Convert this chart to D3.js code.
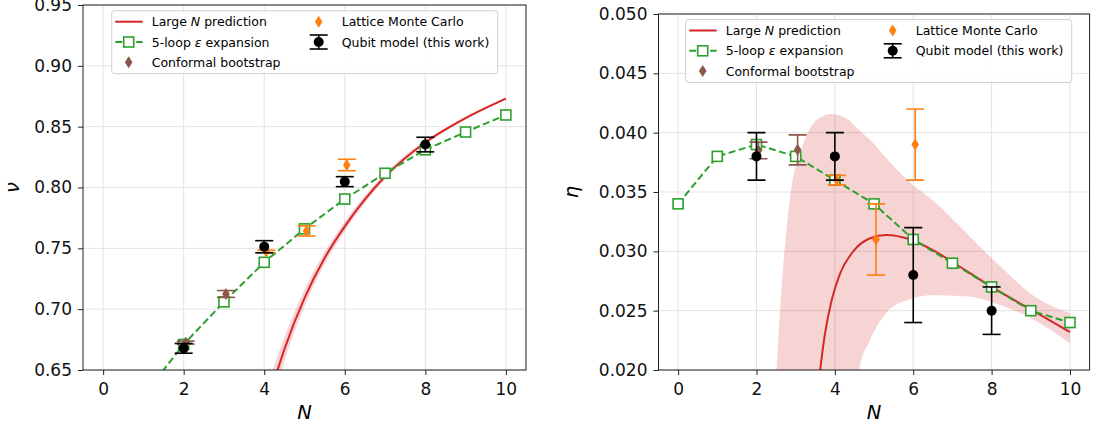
<!DOCTYPE html>
<html>
<head>
<meta charset="utf-8">
<script src="https://cdn.jsdelivr.net/npm/d3@7"></script>
<style>
  body { margin: 0; background: #fff; }
  svg { display: block; font-family: "DejaVu Sans", sans-serif; }
</style>
</head>
<body>
<svg id="fig" width="1096" height="429"></svg>
<script>
// --- DATA ---

// 5-loop epsilon expansion
var N_EPS = [0, 1, 2, 3, 4, 5, 6, 7, 8, 9, 10];
var NU_EPS = [0.588, 0.629, 0.671, 0.706, 0.7385, 0.766, 0.7905, 0.8117, 0.831, 0.8456, 0.8596];
var ETA_EPS = [0.034, 0.038, 0.039, 0.038, 0.036, 0.034, 0.031, 0.029, 0.027, 0.025, 0.024];

// Qubit model (this work)
var N_QUBIT = [2, 4, 6, 8];
var NU_QUBIT = [0.6678, 0.7513, 0.8048, 0.8353];
var NU_QUBIT_ERR = [0.004, 0.005, 0.0041, 0.006];
var ETA_QUBIT = [0.038, 0.038, 0.028, 0.025];
var ETA_QUBIT_ERR = [0.002, 0.002, 0.004, 0.002];

// Lattice Monte Carlo
var N_LATTICE = [4, 5, 6];
var NU_LATTICE = [0.7475, 0.7643, 0.8185];
var NU_LATTICE_ERR = [0.001, 0.0042, 0.0047];
var ETA_LATTICE = [0.036, 0.031, 0.039];
var ETA_LATTICE_ERR = [0.0004, 0.003, 0.003];

// Conformal bootstrap
var N_BOOT = [2, 3];
var NU_BOOT = [0.6725, 0.7125];
var NU_BOOT_ERR = [0.0012, 0.0028];
var ETA_BOOT = [0.0385, 0.03855];
var ETA_BOOT_ERR = [0.0007, 0.00126];

// Large N prediction, nu panel (curve + uncertainty band)
var NU_LARGE_N_N = [4.2, 4.5, 5, 5.5, 6, 7, 8, 9, 10];
var NU_LARGE_N = [0.636, 0.667, 0.709, 0.742, 0.768, 0.809, 0.837, 0.857, 0.873];
var NU_BAND_LO = [0.623, 0.657, 0.702, 0.737, 0.764, 0.8065, 0.8352, 0.8558, 0.8721];
var NU_BAND_HI = [0.649, 0.677, 0.716, 0.747, 0.772, 0.8115, 0.8388, 0.8582, 0.8739];

// Large N prediction, eta panel
var ETA_LARGE_N_N = [3.58, 3.75, 3.92, 4.13, 4.47, 4.9, 5.32, 5.92, 6.5, 7, 8, 9, 10];
var ETA_LARGE_N = [0.0188, 0.0231, 0.0259, 0.0281, 0.0300, 0.0311, 0.03138, 0.0310, 0.0301, 0.0291, 0.0270, 0.0251, 0.0232];
var ETA_BAND_N = [2.45, 2.6, 2.85, 3.2, 3.55, 3.9, 4.3, 4.62, 4.9, 5.3, 5.85, 6.5, 7.4, 8.2, 9.1, 10];
var ETA_BAND_HI = [0.016, 0.025, 0.0343, 0.0391, 0.0411, 0.04157, 0.0412, 0.0402, 0.0394, 0.0379, 0.036, 0.0343, 0.0314, 0.0288, 0.0262, 0.0248];
var ETA_BAND_LO = [0.0, 0.0, 0.0, 0.0, 0.0, 0.0, 0.010, 0.020, 0.02253, 0.02478, 0.0259, 0.0263, 0.0262, 0.0255, 0.0242, 0.02225];

// Ticks
var X_TICKS = [0, 2, 4, 6, 8, 10];
var NU_TICKS = [0.65, 0.70, 0.75, 0.80, 0.85, 0.90, 0.95];
var ETA_TICKS = [0.020, 0.025, 0.030, 0.035, 0.040, 0.045, 0.050];

// --- STYLE ---
var RED = "#d62728", GREEN = "#2ca02c", ORANGE = "#ff7f0e", BROWN = "#8c564b";
var OFFSET = 0.05;   // small horizontal shift used for literature points
var CAP = 9;

var svg = d3.select("#fig");

function zipPts(xs, ys) {
    return xs.map(function (x, i) { return [x, ys[i]]; });
}

function drawErrorbars(g, x, y, ns, vals, errs, color, shift, marker) {
    ns.forEach(function (n, i) {
        var cx = x(n + shift);
        var y0 = y(vals[i] - errs[i]), y1 = y(vals[i] + errs[i]);
        g.append("line").attr("x1", cx).attr("x2", cx).attr("y1", y0).attr("y2", y1)
            .attr("stroke", color).attr("stroke-width", 1.6);
        [y0, y1].forEach(function (yy) {
            g.append("line").attr("x1", cx - CAP).attr("x2", cx + CAP).attr("y1", yy).attr("y2", yy)
                .attr("stroke", color).attr("stroke-width", 1.6);
        });
        marker(g, cx, y(vals[i]), color);
    });
}

function diamond(g, cx, cy, color) {
    g.append("path")
        .attr("d", "M" + cx + "," + (cy - 6) + "L" + (cx + 3.8) + "," + cy + "L" + cx + "," + (cy + 6) + "L" + (cx - 3.8) + "," + cy + "Z")
        .attr("fill", color);
}

function dot(g, cx, cy, color) {
    g.append("circle").attr("cx", cx).attr("cy", cy).attr("r", 5).attr("fill", color);
}

function square(g, cx, cy) {
    g.append("rect").attr("x", cx - 5).attr("y", cy - 5).attr("width", 10).attr("height", 10)
        .attr("fill", "white").attr("stroke", GREEN).attr("stroke-width", 1.6);
}

function drawPanel(cfg) {
    var x = d3.scaleLinear().domain([-0.5, 10.5]).range([cfg.x0, cfg.x1]);
    var y = d3.scaleLinear().domain(cfg.yDomain).range([cfg.y1, cfg.y0]);
    var root = svg.append("g");

    root.append("clipPath").attr("id", cfg.id + "-clip")
        .append("rect").attr("x", cfg.x0).attr("y", cfg.y0)
        .attr("width", cfg.x1 - cfg.x0).attr("height", cfg.y1 - cfg.y0);

    // grid
    var grid = root.append("g");
    X_TICKS.forEach(function (t) {
        grid.append("line").attr("x1", x(t)).attr("x2", x(t)).attr("y1", cfg.y0).attr("y2", cfg.y1)
            .attr("stroke", "#e3e3e3").attr("stroke-width", 1);
    });
    cfg.yTicks.forEach(function (t) {
        grid.append("line").attr("x1", cfg.x0).attr("x2", cfg.x1).attr("y1", y(t)).attr("y2", y(t))
            .attr("stroke", "#e3e3e3").attr("stroke-width", 1);
    });

    var plot = root.append("g").attr("clip-path", "url(#" + cfg.id + "-clip)");

    // A. large N band + curve
    var area = d3.area()
        .x(function (d) { return x(d[0]); })
        .y0(function (d) { return y(d[1]); })
        .y1(function (d) { return y(d[2]); })
        .curve(d3.curveMonotoneX);
    var bandData = cfg.bandN.map(function (n, i) { return [n, cfg.bandLo[i], cfg.bandHi[i]]; });
    plot.append("path").attr("d", area(bandData)).attr("fill", RED).attr("fill-opacity", 0.2);

    var line = d3.line()
        .x(function (d) { return x(d[0]); })
        .y(function (d) { return y(d[1]); });
    plot.append("path").attr("d", line.curve(d3.curveMonotoneX)(zipPts(cfg.lnN, cfg.ln)))
        .attr("fill", "none").attr("stroke", RED).attr("stroke-width", 2);

    // B. epsilon expansion
    plot.append("path").attr("d", line.curve(d3.curveLinear)(zipPts(N_EPS, cfg.eps)))
        .attr("fill", "none").attr("stroke", GREEN).attr("stroke-width", 2)
        .attr("stroke-dasharray", "7,3.5");
    N_EPS.forEach(function (n, i) { square(plot, x(n), y(cfg.eps[i])); });

    // C. points with error bars
    drawErrorbars(plot, x, y, N_BOOT, cfg.boot, cfg.bootErr, BROWN, OFFSET, diamond);
    drawErrorbars(plot, x, y, N_LATTICE, cfg.lat, cfg.latErr, ORANGE, OFFSET, diamond);
    drawErrorbars(plot, x, y, N_QUBIT, cfg.qubit, cfg.qubitErr, "black", 0, dot);

    // axes
    var xAxis = d3.axisBottom(x).tickValues(X_TICKS).tickSize(5).tickPadding(7.5).tickFormat(d3.format("d"));
    var yAxis = d3.axisLeft(y).tickValues(cfg.yTicks).tickSize(5).tickPadding(6).tickFormat(d3.format(cfg.yFmt));
    var gx = root.append("g").attr("transform", "translate(0," + cfg.y1 + ")").call(xAxis);
    var gy = root.append("g").attr("transform", "translate(" + cfg.x0 + ",0)").call(yAxis);
    [gx, gy].forEach(function (ax) {
        ax.select(".domain").remove();
        ax.selectAll("text").attr("font-size", 17).attr("font-family", "DejaVu Sans").attr("fill", "#111");
        ax.selectAll("line").attr("stroke", "#222");
    });

    root.append("rect").attr("x", cfg.x0).attr("y", cfg.y0)
        .attr("width", cfg.x1 - cfg.x0).attr("height", cfg.y1 - cfg.y0)
        .attr("fill", "none").attr("stroke", "#222").attr("stroke-width", 1);

    root.append("text").attr("x", x(5)).attr("y", 419)
        .attr("text-anchor", "middle").attr("font-size", 19.5).attr("font-style", "italic")
        .text("N");
    root.append("text")
        .attr("transform", "translate(" + cfg.yLabelX + "," + ((cfg.y0 + cfg.y1) / 2) + ") rotate(-90)")
        .attr("text-anchor", "middle").attr("font-size", 19.5).attr("font-style", "italic")
        .text(cfg.yLabel);

    // legend
    drawLegend(root, cfg.legX, cfg.legY);
}

function drawLegend(root, lx, ly) {
    var w = 386, h = 63;
    var g = root.append("g");
    g.append("rect").attr("x", lx).attr("y", ly).attr("width", w).attr("height", h)
        .attr("rx", 3).attr("fill", "white").attr("fill-opacity", 0.85)
        .attr("stroke", "#d0d0d0").attr("stroke-width", 1);
    var rowY = function (i) { return ly + 11 + 20.3 * i; };
    var fs = 12.5;

    // Large N
    g.append("line").attr("x1", lx + 3.5).attr("x2", lx + 31).attr("y1", rowY(0)).attr("y2", rowY(0))
        .attr("stroke", RED).attr("stroke-width", 2);
    var t0 = g.append("text").attr("x", lx + 40).attr("y", rowY(0)).attr("dy", "0.36em").attr("font-size", fs);
    t0.append("tspan").text("Large ");
    t0.append("tspan").attr("font-style", "italic").text("N");
    t0.append("tspan").text(" prediction");

    // epsilon
    g.append("line").attr("x1", lx + 3.5).attr("x2", lx + 31).attr("y1", rowY(1)).attr("y2", rowY(1))
        .attr("stroke", GREEN).attr("stroke-width", 2).attr("stroke-dasharray", "7,3.5");
    square(g, lx + 17, rowY(1));
    var t1 = g.append("text").attr("x", lx + 40).attr("y", rowY(1)).attr("dy", "0.36em").attr("font-size", fs);
    t1.append("tspan").text("5-loop ");
    t1.append("tspan").attr("font-style", "italic").text("ε");
    t1.append("tspan").text(" expansion");

    // bootstrap
    diamond(g, lx + 17, rowY(2), BROWN);
    g.append("text").attr("x", lx + 40).attr("y", rowY(2)).attr("dy", "0.36em").attr("font-size", fs)
        .text("Conformal bootstrap");

    // lattice
    diamond(g, lx + 207, rowY(0), ORANGE);
    g.append("text").attr("x", lx + 230).attr("y", rowY(0)).attr("dy", "0.36em").attr("font-size", fs)
        .text("Lattice Monte Carlo");

    // qubit
    var qx = lx + 207, qy = rowY(1);
    g.append("line").attr("x1", qx).attr("x2", qx).attr("y1", qy - 7).attr("y2", qy + 7)
        .attr("stroke", "black").attr("stroke-width", 1.6);
    [qy - 7, qy + 7].forEach(function (yy) {
        g.append("line").attr("x1", qx - CAP).attr("x2", qx + CAP).attr("y1", yy).attr("y2", yy)
            .attr("stroke", "black").attr("stroke-width", 1.6);
    });
    dot(g, qx, qy, "black");
    g.append("text").attr("x", lx + 230).attr("y", rowY(1)).attr("dy", "0.36em").attr("font-size", fs)
        .text("Qubit model (this work)");
}

drawPanel({
    id: "nu", x0: 83, x1: 526, y0: 5, y1: 370,
    yDomain: [0.65, 0.95], yTicks: NU_TICKS, yFmt: ".2f", yLabel: "ν", yLabelX: 18.5,
    eps: NU_EPS, qubit: NU_QUBIT, qubitErr: NU_QUBIT_ERR,
    lat: NU_LATTICE, latErr: NU_LATTICE_ERR, boot: NU_BOOT, bootErr: NU_BOOT_ERR,
    lnN: NU_LARGE_N_N, ln: NU_LARGE_N,
    bandN: NU_LARGE_N_N, bandLo: NU_BAND_LO, bandHi: NU_BAND_HI,
    legX: 111.7, legY: 10.7
});

drawPanel({
    id: "eta", x0: 658.5, x1: 1089.6, y0: 14, y1: 370,
    yDomain: [0.020, 0.050], yTicks: ETA_TICKS, yFmt: ".3f", yLabel: "η", yLabelX: 578,
    eps: ETA_EPS, qubit: ETA_QUBIT, qubitErr: ETA_QUBIT_ERR,
    lat: ETA_LATTICE, latErr: ETA_LATTICE_ERR, boot: ETA_BOOT, bootErr: ETA_BOOT_ERR,
    lnN: ETA_LARGE_N_N, ln: ETA_LARGE_N,
    bandN: ETA_BAND_N, bandLo: ETA_BAND_LO, bandHi: ETA_BAND_HI,
    legX: 685.7, legY: 19.5
});
</script>
</body>
</html>
